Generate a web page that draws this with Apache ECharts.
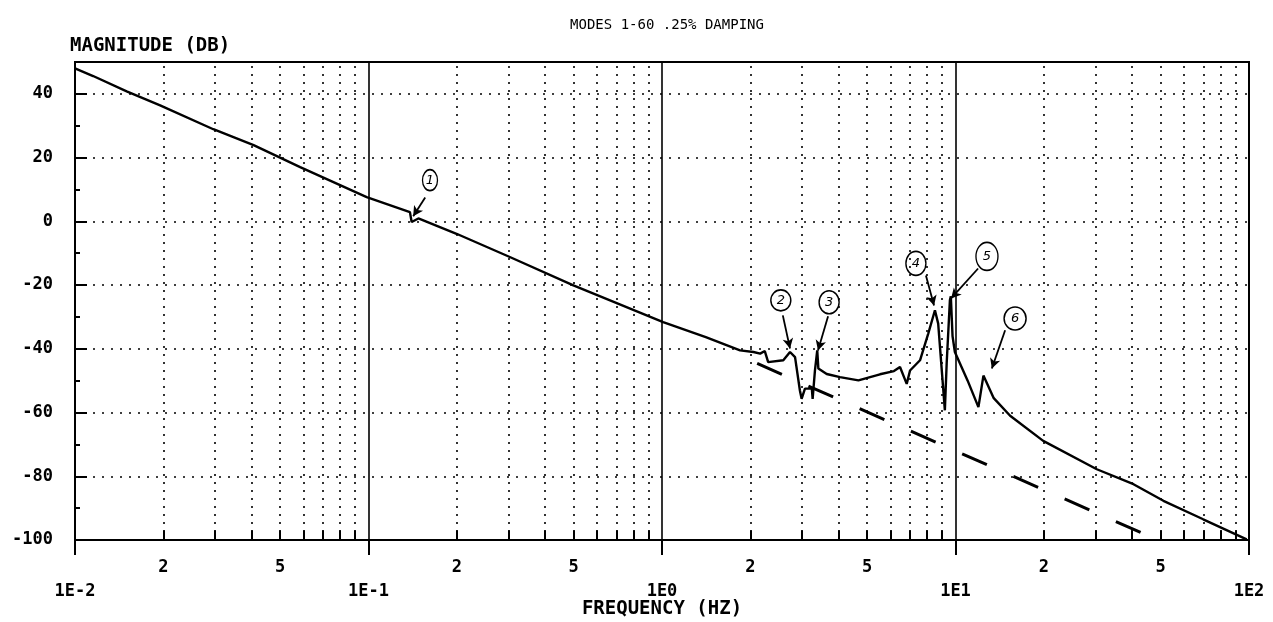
<!DOCTYPE html>
<html>
<head>
<meta charset="utf-8">
<title>MODES 1-60 .25% DAMPING</title>
<script src="https://cdn.jsdelivr.net/npm/echarts@6/dist/echarts.min.js"></script>
<style>
  html, body { margin: 0; padding: 0; background: #fff; }
  #main { width: 1273px; height: 622px; }
</style>
</head>
<body>
<div id="main"></div>
<script>
// magnitude response (Hz, dB)
const freq = [
  0.0100, 0.01153, 0.0150, 0.0195, 0.0296, 0.0406, 0.0585, 0.0986, 0.1384, 0.1403,
  0.1479, 0.1995, 0.303, 0.499, 1.009, 1.41, 1.845, 2.05, 2.16, 2.24,
  2.30, 2.59, 2.73, 2.84, 2.95, 2.99, 3.07, 3.24, 3.26, 3.32,
  3.38, 3.41, 3.64, 4.04, 4.67, 5.53, 6.17, 6.47, 6.82, 7.00,
  7.57, 8.07, 8.51, 8.73, 9.20, 9.33, 9.57, 9.64, 9.77, 9.95,
  10.1, 11.0, 11.97, 12.45, 13.5, 15.35, 19.9, 30.3, 40.4, 51.1,
  69.8, 98.2
];
const magDb = [
  48.0, 45.6, 40.8, 36.4, 28.9, 23.9, 17.0, 7.6, 2.9, -0.2,
  0.9, -3.9, -11.2, -20.1, -31.6, -36.3, -40.5, -41.0, -41.5, -40.7,
  -44.2, -43.6, -41.0, -42.6, -53.1, -55.7, -52.5, -52.5, -55.7, -46.8,
  -40.5, -46.2, -47.9, -48.9, -49.9, -48.0, -47.0, -45.7, -51.0, -46.8,
  -43.6, -35.3, -27.9, -32.1, -59.3, -44.7, -24.8, -23.5, -36.0, -41.0,
  -41.4, -50.0, -58.3, -48.4, -55.5, -61.0, -68.9, -77.8, -82.5, -87.7,
  -93.5, -99.8
];

// dashed -40 dB/decade asymptote
const asymFreq = [2.11, 46.7];
const asymDb = [-44.6, -99.2];

// hand-drawn mode callouts
const modeNames = ['1', '2', '3', '4', '5', '6'];
const circleFreq = [0.162, 2.54, 3.71, 7.33, 12.8, 15.96];
const circleDb = [12.9, -24.8, -25.4, -13.2, -11.0, -30.5];
const arrowFromFreq = [0.156, 2.58, 3.68, 7.93, 11.94, 14.76];
const arrowFromDb = [7.5, -29.5, -29.8, -17.0, -14.8, -34.2];
const arrowToFreq = [0.142, 2.73, 3.40, 8.45, 9.66, 13.3];
const arrowToDb = [1.6, -39.9, -40.5, -26.4, -24.2, -46.2];

// axis structure
const decades = [0.01, 0.1, 1, 10];
const minorSteps = [2, 3, 4, 5, 6, 7, 8, 9];
const labelledSteps = [2, 5];

const circleSizes = [[15, 21], [20, 21], [20, 23], [20, 24], [22, 28], [22, 23]];

const mono = 'DejaVu Sans Mono';

const minorLines = [];
const minorTicks = [];
decades.forEach(function (d) {
  minorSteps.forEach(function (m) {
    const f = +(d * m).toPrecision(3);
    const showLab = labelledSteps.indexOf(m) >= 0;
    minorLines.push({
      xAxis: f,
      label: showLab ? { show: true, formatter: String(m) } : { show: false }
    });
    minorTicks.push([{ coord: [f, -100] }, { coord: [f, -97] }]);
  });
});

const chart = echarts.init(document.getElementById('main'));
chart.setOption({
  animation: false,
  backgroundColor: '#fff',
  title: {
    text: 'MODES 1-60 .25% DAMPING',
    left: 662,
    top: 13,
    textAlign: 'center',
    textStyle: { fontFamily: mono, fontSize: 14, fontWeight: 'normal', color: '#000' }
  },
  grid: {
    left: 75, right: 24, top: 62, bottom: 82,
    outerBoundsMode: 'none',
    containLabel: false,
    show: true, borderColor: '#000', borderWidth: 2, backgroundColor: 'transparent'
  },
  xAxis: {
    type: 'log',
    logBase: 10,
    min: 0.01,
    max: 100,
    splitNumber: 4,
    name: 'FREQUENCY (HZ)',
    nameLocation: 'middle',
    nameGap: 69,
    nameMoveOverlap: false,
    nameTextStyle: { fontFamily: mono, fontSize: 19, fontWeight: 'bold', color: '#000', verticalAlign: 'middle' },
    axisLine: { onZero: false, lineStyle: { color: '#000', width: 2 } },
    axisTick: { show: true, inside: false, length: 15, lineStyle: { color: '#000', width: 2 } },
    axisLabel: {
      margin: 43,
      fontFamily: mono, fontSize: 17, fontWeight: 'bold', color: '#000',
      formatter: function (v) { return '1E' + Math.round(Math.log10(v)); }
    },
    splitLine: { show: true, lineStyle: { color: '#000', width: 1.6, type: 'solid' } }
  },
  yAxis: {
    type: 'value',
    min: -100,
    max: 50,
    interval: 20,
    name: 'MAGNITUDE (DB)',
    nameLocation: 'end',
    nameGap: 6,
    nameTextStyle: { fontFamily: mono, fontSize: 19, fontWeight: 'bold', color: '#000', align: 'left', padding: [0, 0, 0, -5] },
    axisLine: { lineStyle: { color: '#000', width: 2 } },
    axisTick: { show: true, inside: true, length: 12, lineStyle: { color: '#000', width: 2 } },
    minorTick: { show: true, splitNumber: 2, length: 5, lineStyle: { color: '#000', width: 2 } },
    axisLabel: {
      margin: 22,
      fontFamily: mono, fontSize: 17, fontWeight: 'bold', color: '#000',
      formatter: function (v) { return (v % 20 === 0 && v <= 40) ? String(v) : ''; }
    },
    splitLine: { show: true, lineStyle: { color: '#000', width: 1.6, type: [2, 7] } }
  },
  series: [
    {
      // minor grid, bottom ticks and 2 / 5 labels
      type: 'line',
      data: [],
      silent: true,
      markLine: {
        silent: true,
        symbol: 'none',
        animation: false,
        lineStyle: { color: '#000', width: 1.6, type: [2, 6] },
        label: {
          position: 'start', distance: 19,
          fontFamily: mono, fontSize: 17, fontWeight: 'bold', color: '#000'
        },
        data: minorLines
      }
    },
    {
      type: 'line',
      data: [],
      silent: true,
      markLine: {
        silent: true,
        symbol: 'none',
        animation: false,
        label: { show: false },
        lineStyle: { color: '#000', width: 2, type: 'solid' },
        data: minorTicks
      }
    },
    {
      name: 'asymptote',
      type: 'line',
      data: asymFreq.map(function (f, i) { return [f, asymDb[i]]; }),
      showSymbol: false,
      lineStyle: { color: '#000', width: 3, type: [27, 29] }
    },
    {
      name: 'magnitude',
      type: 'line',
      data: freq.map(function (f, i) { return [f, magDb[i]]; }),
      showSymbol: false,
      lineStyle: { color: '#000', width: 2.4 },
      markPoint: {
        silent: true,
        symbol: 'circle',
        itemStyle: { color: 'rgba(255,255,255,0)', borderColor: '#000', borderWidth: 1.5 },
        label: { show: true, color: '#000', fontFamily: 'DejaVu Sans', fontSize: 13, fontStyle: 'italic' },
        data: modeNames.map(function (n, i) {
          return { coord: [circleFreq[i], circleDb[i]], value: n, symbolSize: circleSizes[i] };
        })
      },
      markLine: {
        silent: true,
        symbol: ['none', 'arrow'],
        symbolSize: [8, 10],
        label: { show: false },
        lineStyle: { color: '#000', width: 1.8, type: 'solid' },
        data: modeNames.map(function (n, i) {
          return [
            { coord: [arrowFromFreq[i], arrowFromDb[i]] },
            { coord: [arrowToFreq[i], arrowToDb[i]] }
          ];
        })
      }
    }
  ]
});
</script>
</body>
</html>
